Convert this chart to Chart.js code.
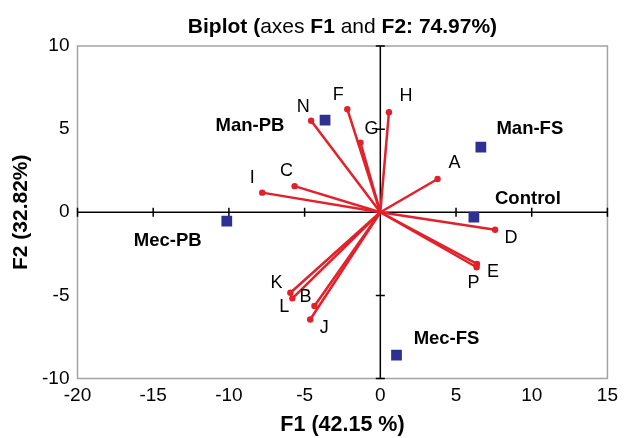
<!DOCTYPE html>
<html>
<head>
<meta charset="utf-8">
<script src="https://cdn.jsdelivr.net/npm/chart.js@4"></script>
<style>
  body { margin: 0; background: #fff; }
  #wrap { width: 624px; height: 438px; }
</style>
</head>
<body>
<div id="wrap"><canvas id="chart"></canvas></div>
<script>
// variables (red vectors)
const varNames = ["A", "B", "C", "D", "E", "F", "G", "H", "I", "J", "K", "L", "N", "P"];
const varF1 = [3.78, -4.35, -5.66, 7.58, 6.38, -2.18, -1.31, 0.57, -7.8, -4.63, -5.94, -5.81, -4.57, 6.36];
const varF2 = [2.0, -5.64, 1.57, -1.05, -3.11, 6.2, 4.19, 6.02, 1.18, -6.45, -4.84, -5.18, 5.5, -3.31];

// observations (blue squares)
const obsNames = ["Control", "Man-FS", "Man-PB", "Mec-FS", "Mec-PB"];
const obsF1 = [6.18, 6.64, -3.65, 1.07, -10.14];
const obsF2 = [-0.3, 3.92, 5.54, -8.6, -0.54];

const xTicks = [-20, -15, -10, -5, 0, 5, 10, 15];
const yTicks = [-10, -5, 0, 5, 10];

// label offsets in px from the point (style only)
const varLabelOffset = {
  A: [17, -16], B: [-9, -9], C: [-8, -15], D: [16, 8], E: [16, 8], F: [-9, -14], G: [11, -14],
  H: [17, -16], I: [-10, -15], J: [14, 9], K: [-14, -10], L: [-8, 9], N: [-8, -14], P: [-3, 16]
};
const obsLabelOffset = {
  "Control": [54, -18], "Man-FS": [49, -18], "Man-PB": [-75, 6], "Mec-FS": [50, -16], "Mec-PB": [-59, 20]
};

const RED = "#e2212b";
const NAVY = "#2e3192";
const FONT = "'Liberation Sans', Arial, Helvetica, sans-serif";

const datasets = varNames.map((name, i) => ({
  label: name,
  data: [{ x: 0, y: 0 }, { x: varF1[i], y: varF2[i] }],
  showLine: true,
  borderColor: RED,
  backgroundColor: RED,
  borderWidth: 2.5,
  pointRadius: [0, 3.2],
  pointBorderWidth: 0
}));

datasets.push({
  label: "obs",
  data: obsF1.map((v, i) => ({ x: v, y: obsF2[i] })),
  showLine: false,
  pointStyle: "rect",
  pointRadius: 7.6,
  backgroundColor: NAVY,
  borderWidth: 0
});

const axesPlugin = {
  id: "biplotAxes",
  beforeDatasetsDraw(chart) {
    const { ctx, chartArea: a, scales: { x, y } } = chart;
    const x0 = x.getPixelForValue(0);
    const y0 = y.getPixelForValue(0);
    ctx.save();
    ctx.strokeStyle = "#a3a3a3";
    ctx.lineWidth = 1.5;
    ctx.strokeRect(a.left, a.top, a.right - a.left, a.bottom - a.top);
    ctx.strokeStyle = "#000";
    ctx.lineWidth = 1.5;
    ctx.beginPath();
    ctx.moveTo(a.left, y0); ctx.lineTo(a.right, y0);
    ctx.moveTo(x0, a.top); ctx.lineTo(x0, a.bottom);
    xTicks.forEach(v => {
      const px = x.getPixelForValue(v);
      ctx.moveTo(px, y0 - 4.5); ctx.lineTo(px, y0 + 4.5);
    });
    yTicks.forEach(v => {
      const py = y.getPixelForValue(v);
      ctx.moveTo(x0 - 4.5, py); ctx.lineTo(x0 + 4.5, py);
    });
    ctx.stroke();
    ctx.restore();
  },
  afterDatasetsDraw(chart) {
    const { ctx, scales: { x, y } } = chart;
    ctx.save();
    ctx.fillStyle = "#000";
    ctx.textAlign = "center";
    ctx.textBaseline = "middle";
    ctx.font = "18px " + FONT;
    varNames.forEach((name, i) => {
      const o = varLabelOffset[name];
      ctx.fillText(name, x.getPixelForValue(varF1[i]) + o[0], y.getPixelForValue(varF2[i]) + o[1]);
    });
    ctx.font = "bold 18.5px " + FONT;
    obsNames.forEach((name, i) => {
      const o = obsLabelOffset[name];
      ctx.fillText(name, x.getPixelForValue(obsF1[i]) + o[0], y.getPixelForValue(obsF2[i]) + o[1]);
    });
    ctx.restore();
  },
  afterDraw(chart) {
    // title with mixed bold / regular parts
    const { ctx, chartArea: a } = chart;
    const parts = [["Biplot (", true], ["axes ", false], ["F1", true], [" and ", false], ["F2: 74.97%)", true]];
    ctx.save();
    ctx.fillStyle = "#000";
    ctx.textBaseline = "middle";
    ctx.textAlign = "left";
    let total = 0;
    parts.forEach(p => {
      ctx.font = (p[1] ? "bold " : "") + "21px " + FONT;
      total += ctx.measureText(p[0]).width;
    });
    let cx = (a.left + a.right) / 2 - total / 2;
    parts.forEach(p => {
      ctx.font = (p[1] ? "bold " : "") + "21px " + FONT;
      ctx.fillText(p[0], cx, 27);
      cx += ctx.measureText(p[0]).width;
    });
    ctx.restore();
  }
};

new Chart(document.getElementById("chart"), {
  type: "scatter",
  data: { datasets },
  plugins: [axesPlugin],
  options: {
    responsive: true,
    maintainAspectRatio: false,
    animation: false,
    layout: { padding: { top: 46, right: 12, left: 0, bottom: 0 } },
    plugins: { legend: { display: false }, tooltip: { enabled: false } },
    scales: {
      x: {
        type: "linear",
        min: -20,
        max: 15,
        afterBuildTicks: s => { s.ticks = xTicks.map(v => ({ value: v })); },
        afterFit: s => { s.height = 59.5; },
        grid: { display: false, drawTicks: false },
        border: { display: false },
        ticks: { color: "#000", font: { family: FONT, size: 19 }, padding: 6, maxRotation: 0, autoSkip: false },
        title: { display: true, text: "F1 (42.15 %)", color: "#000", font: { family: FONT, size: 21.5, weight: "bold" }, padding: { top: 0, bottom: 0 } }
      },
      y: {
        type: "linear",
        min: -10,
        max: 10,
        afterBuildTicks: s => { s.ticks = yTicks.map(v => ({ value: v })); },
        afterFit: s => { s.width = 77.5; },
        grid: { display: false, drawTicks: false },
        border: { display: false },
        ticks: { color: "#000", font: { family: FONT, size: 19 }, padding: 8, autoSkip: false },
        title: { display: true, text: "F2 (32.82%)", color: "#000", font: { family: FONT, size: 21, weight: "bold" }, padding: { top: 9, bottom: 0 } }
      }
    }
  }
});
</script>
</body>
</html>
